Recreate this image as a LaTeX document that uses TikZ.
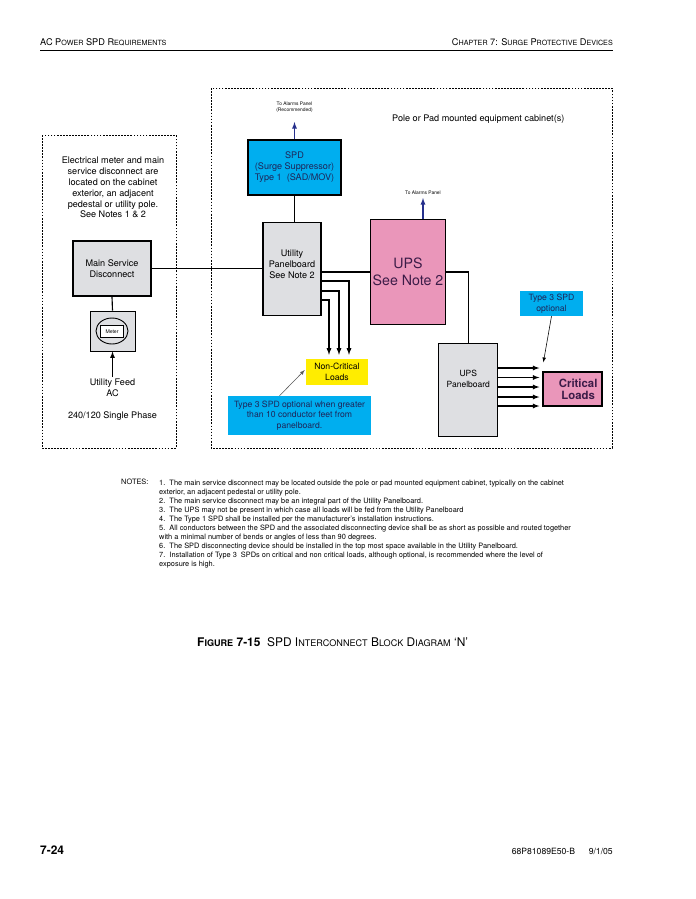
\documentclass[tikz,border=0pt]{standalone}
\usepackage{fontspec}
\setmainfont{TeX Gyre Heros}
\usetikzlibrary{calc,arrows,positioning,shapes.geometric}
\newdimen\px \px=0.88pt
\definecolor{panelgray}{RGB}{222,223,226}
\definecolor{spdcyan}{RGB}{0,174,239}
\definecolor{upspink}{RGB}{234,150,186}
\definecolor{loadyellow}{RGB}{255,237,0}
\definecolor{alarmblue}{RGB}{38,48,140}
\definecolor{inkblue}{RGB}{30,38,90}
\definecolor{inkplum}{RGB}{60,28,72}
\newcommand\hsc[1]{{\fontsize{6.3}{7}\selectfont #1}}
\newcommand\capsc[1]{{\fontsize{8}{9}\selectfont #1}}
\tikzset{
  blockbox/.style={draw, rectangle, line width=1.1pt, align=center, inner sep=1pt, font=\fontsize{8}{9.6}\selectfont},
  sized/.style 2 args={minimum width=#1*\px, minimum height=#2*\px},
  calloutbox/.style={rectangle, align=center, inner sep=1pt, font=\fontsize{7.6}{9.4}\selectfont},
  textnode/.style={align=center, inner sep=0pt, font=\fontsize{8}{9.6}\selectfont},
  tinylabel/.style={align=center, inner sep=0pt, font=\fontsize{4.3}{5.2}\selectfont},
  wire/.style={line width=1pt},
  feed/.style={wire, ->},
  alarm/.style={line width=1pt, draw=alarmblue, ->},
  pointer/.style={line width=0.5pt, ->},
  cabinet/.style={draw, line width=0.6pt, dash pattern=on 1.5pt off 1.2pt}
}

\begin{document}
\begin{tikzpicture}[x=0.88pt, y=-0.88pt, >=latex]
  \fill[white] (0,0) rectangle (695,899);
  \useasboundingbox (0,0) rectangle (695,899);

  % page header
  \node[anchor=base west, inner sep=0pt, font=\fontsize{8.1}{9}\selectfont] (hdleft) at (40,45.5) {AC P\hsc{OWER} SPD R\hsc{EQUIREMENTS}};
  \node[anchor=base east, inner sep=0pt, font=\fontsize{8.1}{9}\selectfont] (hdright) at (613,45.5) {C\hsc{HAPTER} 7: S\hsc{URGE} P\hsc{ROTECTIVE} D\hsc{EVICES}};
  \draw[line width=1pt] (hdleft.west |- 0,50.5) -- (hdright.east |- 0,50.5);

  % cabinets
  \draw[cabinet] (42,135) rectangle (176,448);
  \draw[cabinet] (211,88) rectangle (612,448);
  \node[textnode] (sitenote) at (113,187.5) {Electrical meter and main\\service disconnect are\\located on the cabinet\\exterior, an adjacent\\pedestal or utility pole.\\See Notes 1 \& 2};
  \node[textnode, anchor=west] (cablbl) at (392,119) {Pole or Pad mounted equipment cabinet(s)};

  % service entrance
  \node[blockbox, sized={78}{55}, fill=panelgray] (msd) at (112,268.5) {Main Service\\Disconnect};
  \node[blockbox, sized={45}{40}, fill=panelgray, line width=0.7pt] (meter) at (112.5,331) {};
  \node[draw, ellipse, sized={32}{26}, line width=0.8pt, fill=panelgray] (ring) at (112,331) {};
  \node[draw, rectangle, sized={23}{12}, fill=white, line width=0.6pt, inner sep=0pt, font=\fontsize{4.5}{5}\selectfont] (face) at (112,331.5) {Meter};
  \coordinate (feedin) at (112.5,377);
  \node[textnode, anchor=north] (feedlbl) at (112.5,379) {Utility Feed\\AC};
  \node[textnode] (phase) at (112.5,416) {240/120 Single Phase};

  % cabinet equipment
  \node[blockbox, sized={93}{55}, fill=spdcyan, text=inkblue] (spd) at (294.5,167.5) {SPD\\(Surge Suppressor)\\Type 1\ \ (SAD/MOV)};
  \node[blockbox, sized={58}{93}, fill=panelgray, label={[textnode, yshift=4pt]center:{Utility\\Panelboard\\See Note 2}}] (up) at (292,269) {};
  \node[blockbox, sized={75}{105}, fill=upspink, text=inkplum, font=\fontsize{12.5}{14.5}\selectfont] (ups) at (408,272) {UPS\\See Note 2};
  \node[blockbox, sized={59}{93}, fill=panelgray, label={[textnode, font=\fontsize{7.5}{9.4}\selectfont, yshift=9.5pt]center:{UPS\\Panelboard}}] (upsp) at (468.3,390) {};
  \node[blockbox, sized={59}{34}, fill=upspink, label={[textnode, text=inkplum, font=\bfseries\fontsize{10}{10.5}\selectfont, xshift=5pt]center:{Critical\\Loads}}] (crit) at (572.5,389) {};
  \node[calloutbox, sized={62}{26}, fill=loadyellow] (ncl) at (337,372) {Non-Critical\\Loads};
  \node[calloutbox, sized={143}{39}, fill=spdcyan, text=inkblue] (t3l) at (299.5,415.5) {Type 3 SPD optional when greater\\than 10 conductor feet from\\panelboard.};
  \node[calloutbox, sized={63}{25}, fill=spdcyan, text=inkblue] (t3r) at (551.5,303.5) {Type 3 SPD\\optional};

  % alarm outputs
  \coordinate (spdalarm) at (294.5,122);
  \coordinate (upsalarm) at (423,198);
  \node[tinylabel] (spdalbl) at (294.5,107) {To Alarms Panel\\(Recommended)};
  \node[tinylabel] (upsalbl) at (423,192.5) {To Alarms Panel};
  \draw[alarm] (spd.north) -- (spdalarm);
  \draw[alarm] (upsalarm |- ups.north) -- (upsalarm);

  % power wiring
  \draw[wire] (msd.east) -- (msd.east -| up.west);
  \draw[wire] (msd.south) -- (meter.north);
  \draw[feed] (feedin) -- (meter.south);
  \draw[wire] (spd.south) -- (spd.south |- up.north);
  \draw[wire] (up.east |- ups.west) -- (ups.west);
  \draw[wire] (ups.east) -| (upsp.north);
  \foreach \dy/\dx in {12/12, 22/2, 31/-8}
    \draw[feed] ($(up.east)+(0,\dy)$) -| ($(ncl.north)+(\dx,-4)$);
  \foreach \dy in {-22,-12.5,-3,7,16}
    \draw[feed] ($(upsp.east)+(0,\dy)$) -- ($(upsp.east -| crit.west)+(-3,\dy)$);
  \draw[pointer] (t3r.south) -- ($(crit.north west)+(1,-9)$);
  \draw[pointer, draw=black!65] ($(t3l.north)+(-20,0)$) -- ($(ncl.west)+(-1,-2)$);

  % notes
  \node[anchor=base west, inner sep=0pt, font=\fontsize{6.5}{8}\selectfont] (noteshd) at (121,484.5) {NOTES:};
  \node[anchor=north west, inner sep=0pt, align=left, font=\fontsize{6.5}{8}\selectfont] (notes) at (159,479.5) {1.\ \ The main service disconnect may be located outside the pole or pad mounted equipment cabinet, typically on the cabinet\\
exterior, an adjacent pedestal or utility pole.\\
2.\ \ The main service disconnect may be an integral part of the Utility Panelboard.\\
3.\ \ The UPS may not be present in which case all loads will be fed from the Utility Panelboard\\
4.\ \ The Type 1 SPD shall be installed per the manufacturer's installation instructions.\\
5.\ \ All conductors between the SPD and the associated disconnecting device shall be as short as possible and routed together\\
with a minimal number of bends or angles of less than 90 degrees.\\
6.\ \ The SPD disconnecting device should be installed in the top most space available in the Utility Panelboard.\\
7.\ \ Installation of Type 3\ \ SPDs on critical and non critical loads, although optional, is recommended where the level of\\
exposure is high.};

  % caption and footer
  \node[anchor=base west, inner sep=0pt, font=\fontsize{10.5}{12}\selectfont] (caption) at (197,646.5) {\textbf{F\capsc{IGURE} 7-15}\ \ SPD I\capsc{NTERCONNECT} B\capsc{LOCK} D\capsc{IAGRAM} `N'};
  \node[anchor=base west, inner sep=0pt, font=\bfseries\fontsize{10.5}{12}\selectfont] (pagenum) at (40,854) {7-24};
  \node[anchor=base east, inner sep=0pt, font=\fontsize{7.6}{8}\selectfont] (docid) at (613,854) {68P81089E50-B\hspace{12pt}9/1/05};
\end{tikzpicture}
\end{document}
